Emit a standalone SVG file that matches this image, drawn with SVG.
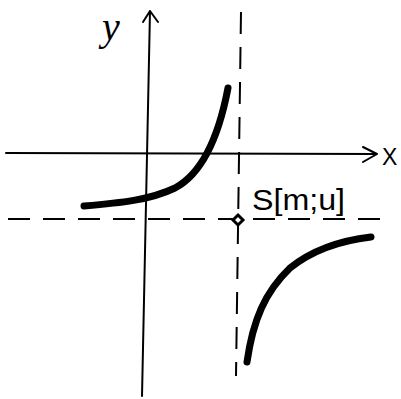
<svg xmlns="http://www.w3.org/2000/svg" width="401" height="399" viewBox="0 0 401 399">
<style>
.ax{stroke:#000;stroke-width:2;fill:none;stroke-linecap:round;stroke-linejoin:round}
.dash{stroke:#000;stroke-width:2;fill:none;stroke-dasharray:22 13}
.curve{stroke:#000;stroke-width:7;fill:none;stroke-linecap:round}
.lbl{font-family:"Liberation Sans",Arial,sans-serif;fill:#000}
</style>
<rect width="401" height="399" fill="#fff"/>
<g id="connectors">
<path id="x-axis" class="ax" d="M6,153 L376,154 M363,147 L377,154 L363,162"/>
<path id="y-axis" class="ax" d="M142,396 L150,11 M143,22 L150,11 L158,22"/>
<path id="asym-v" class="dash" d="M241,12 L236,376"/>
<path id="asym-h" class="dash" d="M8,219 L380,219"/>
</g>
<g id="branch-left">
<path class="curve" d="M84,206 C120,203 150,200 175,188 C205,172 220,130 228,88"/>
</g>
<g id="branch-right">
<path class="curve" d="M247,362 C253,320 265,292 290,268 C315,248 345,240 371,237"/>
</g>
<g id="point-S">
<path d="M238,215 L243,220 L238,225 L233,220 Z" fill="#fff" stroke="#000" stroke-width="3"/>
<text class="lbl" x="252" y="210" font-size="29" textLength="93" lengthAdjust="spacingAndGlyphs">S[m;u]</text>
</g>
<g id="labels">
<text x="102" y="40" font-family="'Liberation Serif',serif" font-style="italic" font-size="40" fill="#000">y</text>
<text class="lbl" x="382" y="165" font-size="23">X</text>
</g>
</svg>
